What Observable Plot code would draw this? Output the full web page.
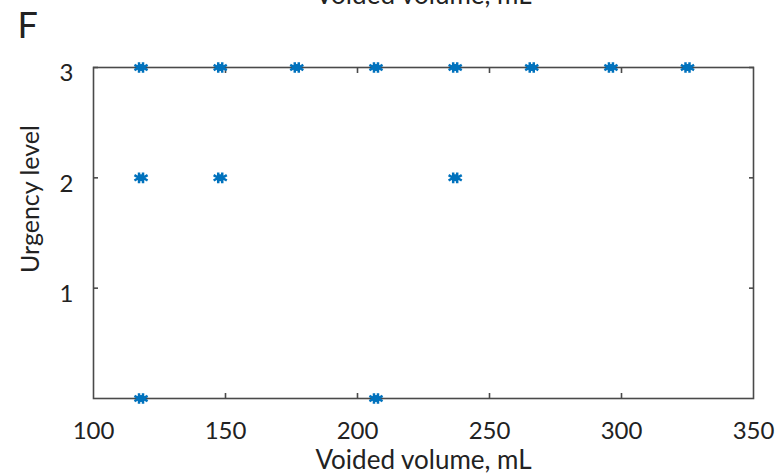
<!DOCTYPE html>
<html>
<head>
<meta charset="utf-8">
<script src="https://cdn.jsdelivr.net/npm/d3@7"></script>
<script src="https://cdn.jsdelivr.net/npm/@observablehq/plot@0.6"></script>
<style>
  html, body { margin: 0; padding: 0; background: #fff; }
  #chart { width: 777px; height: 475px; overflow: hidden; }
</style>
</head>
<body>
<div id="chart"></div>
<script>
// Data (voided volume in mL, urgency level)
const volumes = [118, 148, 177, 207, 237, 266, 296, 325, 118, 148, 237, 118, 207];
const levels  = [3,   3,   3,   3,   3,   3,   3,   3,   2,   2,   2,   0,   0];
const xTicks = [100, 150, 200, 250, 300, 350];
const yTicks = [1, 2, 3];
const panelLabel = "F";
const xLabel = "Voided volume, mL";
const yLabel = "Urgency level";

const points = volumes.map((v, i) => ({volume: v, level: levels[i]}));
const font = "Lato, 'Open Sans', sans-serif";
const axisColor = "#4a4a4a";
const textColor = "#222";
const blue = "#0072BD";

const chart = Plot.plot({
  width: 777,
  height: 475,
  marginLeft: 93,
  marginRight: 24,
  marginTop: 67,
  marginBottom: 77,
  style: {fontFamily: font, fontSize: "24px", color: textColor, background: "#fff", overflow: "hidden"},
  x: {domain: [100, 350], ticks: xTicks},
  y: {domain: [0, 3], ticks: yTicks},
  marks: [
    Plot.frame({stroke: axisColor, strokeWidth: 1.6}),
    // inward ticks, bottom and top
    Plot.axisX({anchor: "bottom", ticks: xTicks.slice(1, -1), tickSize: -5, stroke: axisColor, strokeWidth: 1.6, label: null, text: null}),
    Plot.axisX({anchor: "top", ticks: xTicks.slice(1, -1), tickSize: -5, stroke: axisColor, strokeWidth: 1.6, label: null, text: null}),
    Plot.axisX({anchor: "bottom", ticks: xTicks, tickSize: 0, tickPadding: 23, tickFormat: "d", fill: textColor, fontSize: 24, label: null}),
    // inward ticks, left and right
    Plot.axisY({anchor: "left", ticks: yTicks, tickSize: -5, stroke: axisColor, strokeWidth: 1.6, label: null, text: null}),
    Plot.axisY({anchor: "right", ticks: yTicks, tickSize: -5, stroke: axisColor, strokeWidth: 1.6, label: null, text: null}),
    Plot.axisY({anchor: "left", ticks: yTicks, tickSize: 0, tickPadding: 20, tickFormat: "d", fill: textColor, fontSize: 24, label: null, dy: 6}),
    // data markers (wide blue blobs)
    Plot.dot(points, {x: "volume", y: "level", symbol: "asterisk", r: 5, stroke: blue, strokeWidth: 2.5, dx: -2}),
    Plot.dot(points, {x: "volume", y: "level", symbol: "asterisk", r: 5, stroke: blue, strokeWidth: 2.5, dx: 2}),
    Plot.dot(points, {x: "volume", y: "level", r: 3.5, fill: blue}),
    // axis titles
    Plot.text([xLabel], {frameAnchor: "bottom", dy: 70, text: d => d, fontSize: 26, fill: textColor}),
    Plot.text([yLabel], {frameAnchor: "left", textAnchor: "middle", dx: -63, dy: -34, rotate: -90, text: d => d, fontSize: 25, fill: textColor}),
    // clipped title at top edge (from the panel above) and panel letter
    Plot.text([xLabel], {frameAnchor: "top", dy: -82, text: d => d, fontSize: 26, fill: textColor}),
    Plot.text([panelLabel], {frameAnchor: "top-left", dx: -76, dy: -55, text: d => d, fontSize: 36, fill: textColor, textAnchor: "start"})
  ]
});
document.getElementById("chart").appendChild(chart);
</script>
</body>
</html>
